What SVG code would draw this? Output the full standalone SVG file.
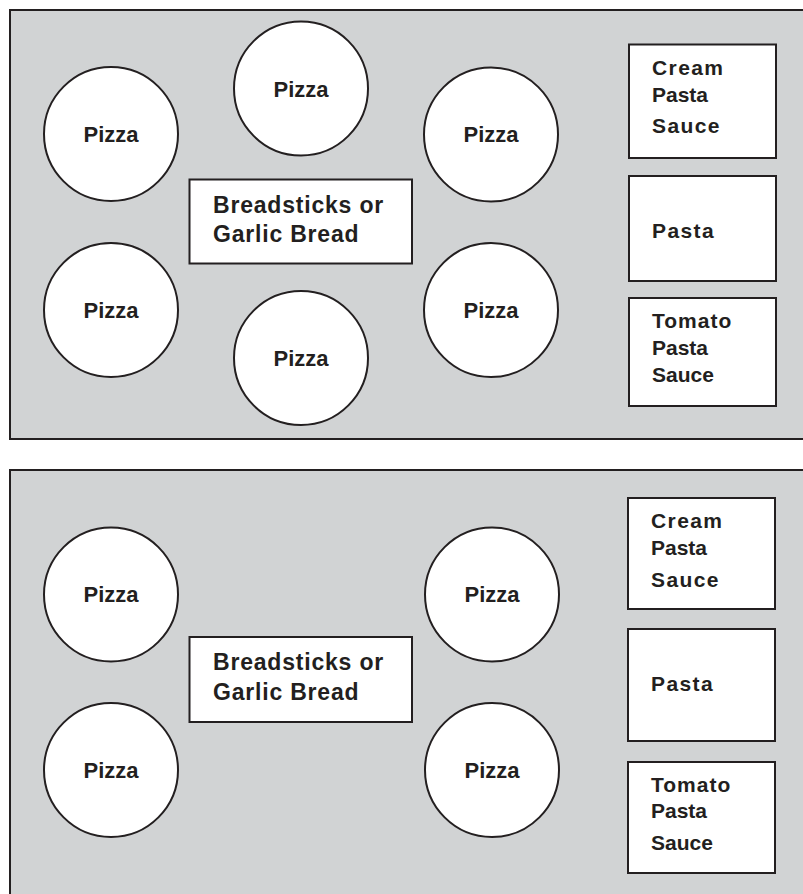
<svg xmlns="http://www.w3.org/2000/svg" width="803" height="894" viewBox="0 0 803 894">
<style>
.panel{fill:#d1d3d4;stroke:#231f20;stroke-width:2}
.node{fill:#ffffff;stroke:#231f20;stroke-width:2}
text{font-family:"Liberation Sans",Arial,sans-serif;font-weight:bold;fill:#231f20}
.pz{font-size:22px;text-anchor:middle}
.bb{font-size:23px;letter-spacing:0.8px}
.lb{font-size:21px}
.ls{letter-spacing:1.4px}
</style>
<rect width="803" height="894" fill="#ffffff"/>
<g id="panel-top">
<rect class="panel" x="10" y="10" width="800" height="429"/>
</g>
<g id="panel-bottom">
<rect class="panel" x="10" y="470" width="800" height="430"/>
</g>
<g id="connectors"></g>
<g id="t-pizza-1"><circle class="node" cx="111" cy="134" r="67"/><text class="pz" x="111" y="142">Pizza</text></g>
<g id="t-pizza-2"><circle class="node" cx="301" cy="88.5" r="67"/><text class="pz" x="301" y="97">Pizza</text></g>
<g id="t-pizza-3"><circle class="node" cx="491" cy="134.5" r="67"/><text class="pz" x="491" y="142">Pizza</text></g>
<g id="t-pizza-4"><circle class="node" cx="111" cy="310" r="67"/><text class="pz" x="111" y="318">Pizza</text></g>
<g id="t-pizza-5"><circle class="node" cx="301" cy="358" r="67"/><text class="pz" x="301" y="366">Pizza</text></g>
<g id="t-pizza-6"><circle class="node" cx="491" cy="310" r="67"/><text class="pz" x="491" y="318">Pizza</text></g>
<g id="t-bread"><rect class="node" x="189.5" y="179.5" width="222.5" height="84"/><text class="bb" x="213" y="213">Breadsticks or</text><text class="bb" x="213" y="242">Garlic Bread</text></g>
<g id="t-cream"><rect class="node" x="629" y="44.5" width="147" height="113.5"/><text class="lb ls" x="652" y="75">Cream</text><text class="lb" x="652" y="102">Pasta</text><text class="lb ls" x="652" y="133">Sauce</text></g>
<g id="t-pasta"><rect class="node" x="629" y="176" width="147" height="105"/><text class="lb ls" x="652" y="238">Pasta</text></g>
<g id="t-tomato"><rect class="node" x="629" y="298" width="147" height="108"/><text class="lb" x="652" y="328" letter-spacing="1">Tomato</text><text class="lb" x="652" y="355">Pasta</text><text class="lb" x="652" y="382">Sauce</text></g>
<g id="b-pizza-1"><circle class="node" cx="111" cy="594.5" r="67"/><text class="pz" x="111" y="602">Pizza</text></g>
<g id="b-pizza-2"><circle class="node" cx="492" cy="594.5" r="67"/><text class="pz" x="492" y="602">Pizza</text></g>
<g id="b-pizza-3"><circle class="node" cx="111" cy="770" r="67"/><text class="pz" x="111" y="778">Pizza</text></g>
<g id="b-pizza-4"><circle class="node" cx="492" cy="770" r="67"/><text class="pz" x="492" y="778">Pizza</text></g>
<g id="b-bread"><rect class="node" x="189.5" y="637" width="222.5" height="85"/><text class="bb" x="213" y="670">Breadsticks or</text><text class="bb" x="213" y="700">Garlic Bread</text></g>
<g id="b-cream"><rect class="node" x="628" y="498" width="147" height="111"/><text class="lb ls" x="651" y="528">Cream</text><text class="lb" x="651" y="555">Pasta</text><text class="lb ls" x="651" y="587">Sauce</text></g>
<g id="b-pasta"><rect class="node" x="628" y="629" width="147" height="112"/><text class="lb ls" x="651" y="691">Pasta</text></g>
<g id="b-tomato"><rect class="node" x="628" y="762" width="147" height="111"/><text class="lb" x="651" y="792" letter-spacing="1">Tomato</text><text class="lb" x="651" y="818">Pasta</text><text class="lb" x="651" y="850">Sauce</text></g>
</svg>
